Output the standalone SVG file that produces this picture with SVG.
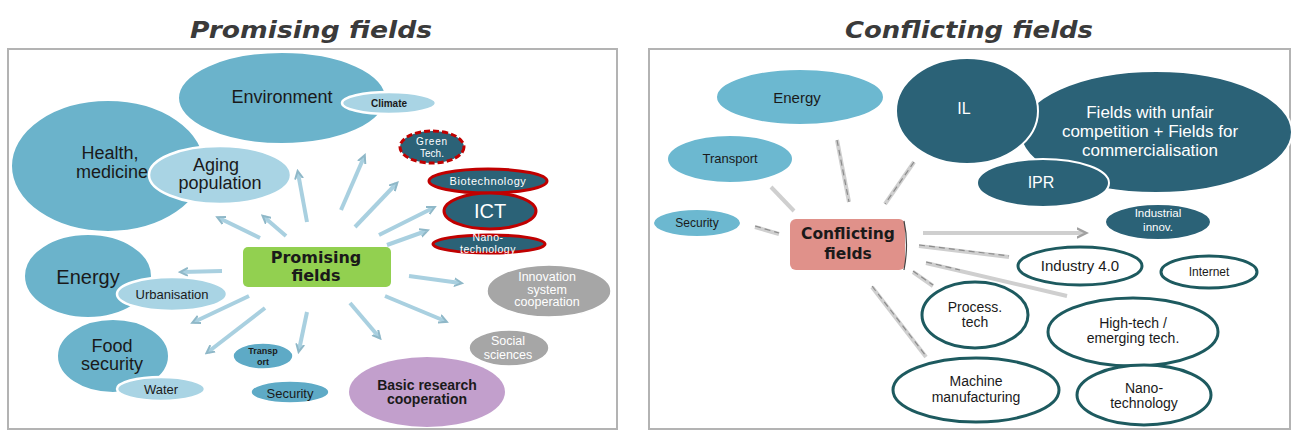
<svg xmlns="http://www.w3.org/2000/svg" width="1295" height="433" viewBox="0 0 1295 433">
<defs>
<style>
text{font-family:"Liberation Sans",Arial,sans-serif;text-anchor:middle;dominant-baseline:central;fill:#1a1a1a}
.title{font-family:"DejaVu Sans",Verdana,sans-serif;font-weight:bold;font-style:italic;font-size:23px;fill:#3a3a3a}
.frame{fill:#fff;stroke:#b3b3b3;stroke-width:2}
.mid{fill:#6bb3cb;stroke:#fff;stroke-width:2}
.lt{fill:#a9d4e4;stroke:#fff;stroke-width:2.5}
.sm{fill:#5eaac6;stroke:#fff;stroke-width:1.5}
.dk{fill:#2b6277;stroke:#fff;stroke-width:2}
.red{fill:#2b6277;stroke:#c00000;stroke-width:3}
.gray{fill:#a6a6a6;stroke:#fff;stroke-width:1.5}
.rb{fill:#6cb8d0;stroke:#fff;stroke-width:2}
.out{fill:#fff;stroke:#1d5a5f;stroke-width:3}
.w{fill:#fff}
.b{font-family:"DejaVu Sans",Verdana,sans-serif;font-weight:bold}
.ar{stroke:#a9d0e0;stroke-width:4;fill:none;marker-end:url(#ha)}
.gr{stroke:#cfcfcf;stroke-width:4;fill:none}
.grd{stroke:#8c8c8c;stroke-width:1.2;stroke-dasharray:6 4;fill:none}
</style>
<marker id="ha" viewBox="0 0 10 10" refX="6" refY="5" markerWidth="2.5" markerHeight="2.5" orient="auto"><path d="M0,1 L8,5 L0,9" fill="none" stroke="#8fb8c8" stroke-width="2"/></marker>
<marker id="hg" viewBox="0 0 10 10" refX="6" refY="5" markerWidth="3" markerHeight="3" orient="auto"><path d="M0,1 L8,5 L0,9" fill="none" stroke="#a0a0a0" stroke-width="2"/></marker>
</defs>
<rect width="1295" height="433" fill="#fff"/>

<text class="title" x="311" y="30" textLength="242" lengthAdjust="spacingAndGlyphs">Promising fields</text>
<text class="title" x="969" y="30" textLength="248" lengthAdjust="spacingAndGlyphs">Conflicting fields</text>

<rect class="frame" x="8" y="49" width="609" height="380"/>
<rect class="frame" x="649" y="49" width="641" height="380"/>

<!-- Left panel connectors -->
<g id="connectors-left">
<line class="ar" x1="260" y1="238" x2="219" y2="218"/>
<line class="ar" x1="286" y1="236" x2="264" y2="217"/>
<line class="ar" x1="307" y1="222" x2="298" y2="173"/>
<line class="ar" x1="341" y1="210" x2="364" y2="157"/>
<line class="ar" x1="355" y1="227" x2="396" y2="184"/>
<line class="ar" x1="379" y1="235" x2="433" y2="208"/>
<line class="ar" x1="387" y1="245" x2="426" y2="231"/>
<line class="ar" x1="409" y1="276" x2="460" y2="283"/>
<line class="ar" x1="222" y1="271" x2="182" y2="272"/>
<line class="ar" x1="249" y1="296" x2="194" y2="322"/>
<line class="ar" x1="265" y1="308" x2="208" y2="352"/>
<line class="ar" x1="307" y1="312" x2="299" y2="350"/>
<line class="ar" x1="350" y1="303" x2="379" y2="337"/>
<line class="ar" x1="385" y1="296" x2="445" y2="321"/>
</g>

<g id="health"><ellipse class="mid" cx="108" cy="166" rx="97" ry="66"/><text x="110" y="153" font-size="18">Health,</text><text x="112" y="172" font-size="18">medicine</text></g>
<g id="environment"><ellipse class="mid" cx="282" cy="98" rx="104" ry="46"/><text x="282" y="97" font-size="18">Environment</text></g>
<g id="climate"><ellipse class="lt" cx="389" cy="103" rx="47" ry="11"/><text x="389" y="103" font-size="10" font-weight="bold">Climate</text></g>
<g id="aging"><ellipse class="lt" cx="220" cy="175" rx="71" ry="29"/><text x="216" y="165" font-size="18">Aging</text><text x="220" y="183" font-size="18">population</text></g>
<g id="energy-l"><ellipse class="mid" cx="88" cy="276" rx="64" ry="42"/><text x="88" y="277" font-size="20">Energy</text></g>
<g id="urbanisation"><ellipse class="lt" cx="172" cy="294" rx="55" ry="17"/><text x="172" y="294" font-size="13">Urbanisation</text></g>
<g id="food"><ellipse class="mid" cx="113" cy="356" rx="56" ry="37"/><text x="112" y="346" font-size="18">Food</text><text x="112" y="364" font-size="18">security</text></g>
<g id="water"><ellipse class="lt" cx="161" cy="389" rx="44" ry="12"/><text x="161" y="389" font-size="13">Water</text></g>
<g id="transport-l"><ellipse class="sm" cx="263" cy="356" rx="30" ry="13"/><text x="263" y="351" font-size="9" font-weight="bold">Transp</text><text x="263" y="362" font-size="9" font-weight="bold">ort</text></g>
<g id="security-l"><ellipse class="sm" cx="290" cy="392" rx="39" ry="11"/><text x="290" y="393" font-size="13">Security</text></g>
<g id="promising"><rect x="243" y="247" width="148" height="40" rx="5" fill="#92d050"/><text class="b" x="316" y="257" font-size="16">Promising</text><text class="b" x="316" y="275" font-size="16">fields</text></g>
<g id="greentech"><ellipse cx="432" cy="147" rx="32" ry="16" fill="#2b6277" stroke="#c00000" stroke-width="3" stroke-dasharray="6 3"/><text class="w" x="432" y="141" font-size="10" letter-spacing="0.8">Green</text><text class="w" x="432" y="153" font-size="10">Tech.</text></g>
<g id="biotech"><ellipse class="red" cx="488" cy="181" rx="59" ry="12"/><text class="w" x="488" y="181" font-size="11" letter-spacing="0.6">Biotechnology</text></g>
<g id="ict"><ellipse class="red" cx="490" cy="211" rx="46" ry="18"/><text class="w" x="490" y="211" font-size="20">ICT</text></g>
<g id="nano-l"><ellipse class="red" cx="489" cy="244" rx="56" ry="9"/><text class="w" x="488" y="237" font-size="10.5" letter-spacing="0.5">Nano-</text><text class="w" x="488" y="249" font-size="10.5" letter-spacing="0.5">technology</text></g>
<g id="innovation"><ellipse class="gray" cx="549" cy="291" rx="62" ry="26"/><text class="w" x="547" y="277" font-size="12.5">Innovation</text><text class="w" x="547" y="289.5" font-size="12.5">system</text><text class="w" x="547" y="302" font-size="12.5">cooperation</text></g>
<g id="social"><ellipse class="gray" cx="509" cy="348" rx="40" ry="18"/><text class="w" x="508" y="341" font-size="12.5">Social</text><text class="w" x="508" y="354.5" font-size="12.5">sciences</text></g>
<g id="basic"><ellipse cx="427" cy="392" rx="78" ry="35" fill="#c29fcc"/><text x="427" y="385" font-size="14" font-weight="bold">Basic research</text><text x="427" y="399" font-size="14" font-weight="bold">cooperation</text></g>

<!-- Right panel connectors -->
<g id="connectors-right">
<line class="gr" x1="849" y1="202" x2="837" y2="140"/>
<line class="gr" x1="885" y1="204" x2="914" y2="162"/>
<line class="gr" x1="794" y1="211" x2="771" y2="187"/>
<line class="gr" x1="779" y1="234" x2="755" y2="227"/>
<line class="gr" x1="923" y1="233" x2="1084" y2="233" marker-end="url(#hg)"/>
<line class="gr" x1="919" y1="246" x2="1009" y2="257"/>
<line class="gr" x1="926" y1="263" x2="1067" y2="296"/>
<line class="gr" x1="913" y1="272" x2="933" y2="286"/>
<line class="gr" x1="872" y1="287" x2="926" y2="357"/>
<line class="grd" x1="919" y1="245" x2="1009" y2="256"/>
<line class="grd" x1="926" y1="262" x2="960" y2="270"/>
<line class="grd" x1="872" y1="286" x2="926" y2="356"/>
<line class="grd" x1="913" y1="271" x2="933" y2="285"/>
<line class="grd" x1="755" y1="226" x2="779" y2="233"/>
<line class="grd" x1="837" y1="140" x2="849" y2="202"/>
<line class="grd" x1="914" y1="162" x2="885" y2="204"/>
</g>

<g id="energy-r"><ellipse class="rb" cx="800" cy="97" rx="84" ry="28"/><text x="797" y="97" font-size="15">Energy</text></g>
<g id="transport-r"><ellipse class="rb" cx="730" cy="159" rx="63" ry="24"/><text x="730" y="158" font-size="13">Transport</text></g>
<g id="security-r"><ellipse class="rb" cx="697" cy="223" rx="44" ry="14"/><text x="697" y="223" font-size="12">Security</text></g>
<g id="unfair"><ellipse class="dk" cx="1156" cy="132" rx="136" ry="61"/><text class="w" x="1150" y="112" font-size="17">Fields with unfair</text><text class="w" x="1150" y="131" font-size="17">competition + Fields for</text><text class="w" x="1150" y="150" font-size="17">commercialisation</text></g>
<g id="il"><ellipse class="dk" cx="967" cy="111" rx="71" ry="53"/><text class="w" x="964" y="108" font-size="16">IL</text></g>
<g id="ipr"><ellipse class="dk" cx="1043" cy="183" rx="66" ry="24"/><text class="w" x="1041" y="182" font-size="16">IPR</text></g>
<g id="conflicting"><rect x="790" y="219" width="115" height="51" rx="6" fill="#e0918a"/><path d="M904,221 Q909,244 904,270" fill="none" stroke="#444" stroke-width="1.2"/><text class="b" x="848" y="234" font-size="15.5">Conflicting</text><text class="b" x="848" y="254" font-size="15.5">fields</text></g>
<g id="industrial"><ellipse class="dk" cx="1158" cy="222" rx="53" ry="18"/><text class="w" x="1158" y="213" font-size="11.5">Industrial</text><text class="w" x="1158" y="227" font-size="11.5">innov.</text></g>
<g id="industry40"><ellipse class="out" cx="1080" cy="266" rx="62" ry="19"/><text x="1080" y="265" font-size="15">Industry 4.0</text></g>
<g id="internet"><ellipse class="out" cx="1209" cy="272" rx="48" ry="16"/><text x="1209" y="272" font-size="12">Internet</text></g>
<g id="process"><ellipse class="out" cx="975" cy="315" rx="53" ry="33"/><text x="975" y="307" font-size="14">Process.</text><text x="975" y="322" font-size="14">tech</text></g>
<g id="hightech"><ellipse class="out" cx="1133" cy="332" rx="85" ry="34"/><text x="1133" y="323" font-size="14">High-tech /</text><text x="1133" y="338" font-size="14">emerging tech.</text></g>
<g id="machine"><ellipse class="out" cx="976" cy="390" rx="83" ry="32"/><text x="976" y="381" font-size="14">Machine</text><text x="976" y="397" font-size="14">manufacturing</text></g>
<g id="nano-r"><ellipse class="out" cx="1144" cy="395" rx="67" ry="30"/><text x="1144" y="388" font-size="14">Nano-</text><text x="1144" y="403" font-size="14">technology</text></g>
</svg>
